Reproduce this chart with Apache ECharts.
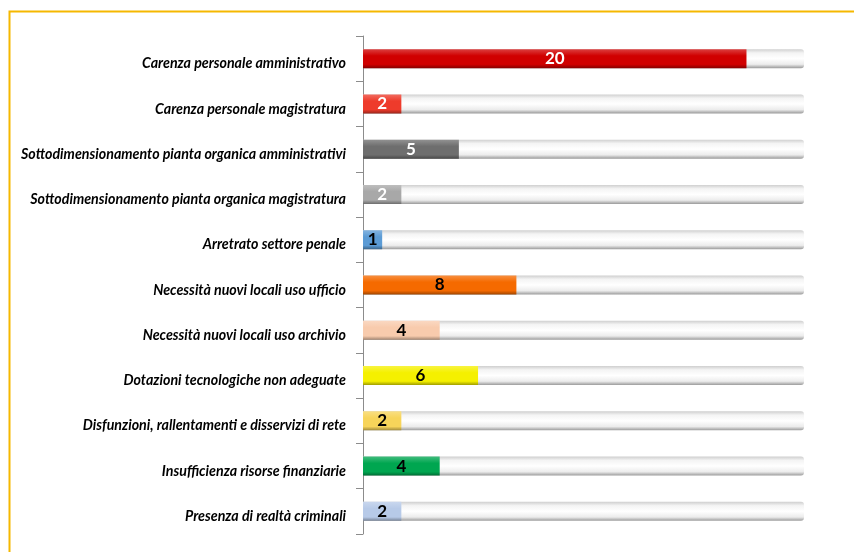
<!DOCTYPE html>
<html><head><meta charset="utf-8">
<script src="https://cdn.jsdelivr.net/npm/echarts@6/dist/echarts.min.js"></script>
<style>html,body{margin:0;padding:0;background:#fff}#c{width:854px;height:552px}</style>
</head><body><div id="c"></div>
<script>
var categories = [
  'Carenza personale amministrativo',
  'Carenza personale magistratura',
  'Sottodimensionamento pianta organica amministrativi',
  'Sottodimensionamento pianta organica magistratura',
  'Arretrato settore penale',
  'Necessità nuovi locali uso ufficio',
  'Necessità nuovi locali uso archivio',
  'Dotazioni tecnologiche non adeguate',
  'Disfunzioni, rallentamenti e disservizi di rete',
  'Insufficienza risorse finanziarie',
  'Presenza di realtà criminali'
];
var values = [20, 2, 5, 2, 1, 8, 4, 6, 2, 4, 2];
var barColors = ['#D00000', '#EE3B2B', '#6E6E6E', '#A8A8A8', '#5B9BD5', '#F56A00', '#F8CBAD', '#F5F000', '#F7D45A', '#00A650', '#B7CAE8'];
var labelColors = ['#fff', '#fff', '#fff', '#fff', '#000', '#000', '#000', '#000', '#000', '#000', '#000'];
var axisMax = 23;

// pick narrowest installed font
var ctx = document.createElement('canvas').getContext('2d');
var probe = categories[0];
function w(f) { ctx.font = 'italic bold 100px ' + f; return ctx.measureText(probe).width; }
var candidates = ["'Liberation Sans Narrow'", "'DejaVu Sans Condensed'", "'Liberation Sans'", "'Open Sans'", "Roboto", "Lato", "Inter"];
var base1 = w('monospace'), base2 = w('serif');
var best = "'Liberation Sans'", bestW = Infinity;
candidates.forEach(function (f) {
  var a = w(f + ', monospace'), b = w(f + ', serif');
  if (Math.abs(a - base1) > 0.5 || Math.abs(b - base2) > 0.5) {
    if (a < bestW) { bestW = a; best = f; }
  }
});
var labelFont = best + ', sans-serif';
var labelSize = Math.max(11, Math.min(16, 100 * 204 / bestW));

function shade(hex, f) {
  var n = parseInt(hex.slice(1), 16);
  var r = (n >> 16) & 255, g = (n >> 8) & 255, b = n & 255;
  function m(c) { return Math.max(0, Math.min(255, Math.round(f > 0 ? c + (255 - c) * f : c * (1 + f)))); }
  return 'rgb(' + m(r) + ',' + m(g) + ',' + m(b) + ')';
}
function grad(hex) {
  return new echarts.graphic.LinearGradient(0, 0, 0, 1, [
    { offset: 0, color: shade(hex, 0.25) },
    { offset: 0.35, color: hex },
    { offset: 0.8, color: hex },
    { offset: 1, color: shade(hex, -0.35) }
  ]);
}

var chart = echarts.init(document.getElementById('c'));
chart.setOption({
  animation: false,
  graphic: [{
    type: 'rect', left: 7, top: 9,
    shape: { width: 900, height: 600 },
    style: { fill: 'none', stroke: '#F5B800', lineWidth: 2 }
  }],
  grid: { left: 363, right: 50, top: 36, bottom: 18, containLabel: false, outerBoundsMode: 'none' },
  xAxis: { type: 'value', min: 0, max: axisMax, show: false },
  yAxis: {
    type: 'category', data: categories, inverse: true,
    axisLine: { show: true, lineStyle: { color: '#8c8c8c', width: 1 } },
    axisTick: { show: true, length: 7, lineStyle: { color: '#8c8c8c' } },
    axisLabel: {
      margin: 17, color: '#000', fontSize: labelSize, fontStyle: 'italic', fontWeight: 'bold',
      fontFamily: labelFont, verticalAlign: 'top', lineHeight: 10
    }
  },
  series: [{
    type: 'bar', barWidth: '42%', silent: true,
    data: values.map(function () { return axisMax; }),
    itemStyle: {
      borderRadius: [0, 3, 3, 0],
      color: new echarts.graphic.LinearGradient(0, 0, 0, 1, [
        { offset: 0, color: '#cfcfcf' },
        { offset: 0.2, color: '#f4f4f4' },
        { offset: 0.5, color: '#ffffff' },
        { offset: 0.8, color: '#ececec' },
        { offset: 1, color: '#9a9a9a' }
      ])
    },
    z: 1
  }, {
    type: 'bar', barWidth: '42%', barGap: '-100%',
    data: values.map(function (v, i) {
      return {
        value: v,
        itemStyle: { color: grad(barColors[i]) },
        label: { color: labelColors[i] }
      };
    }),
    label: {
      show: true, position: 'inside', fontSize: 17, fontWeight: 'bold',
      fontFamily: labelFont
    },
    z: 2
  }]
});
</script></body></html>
